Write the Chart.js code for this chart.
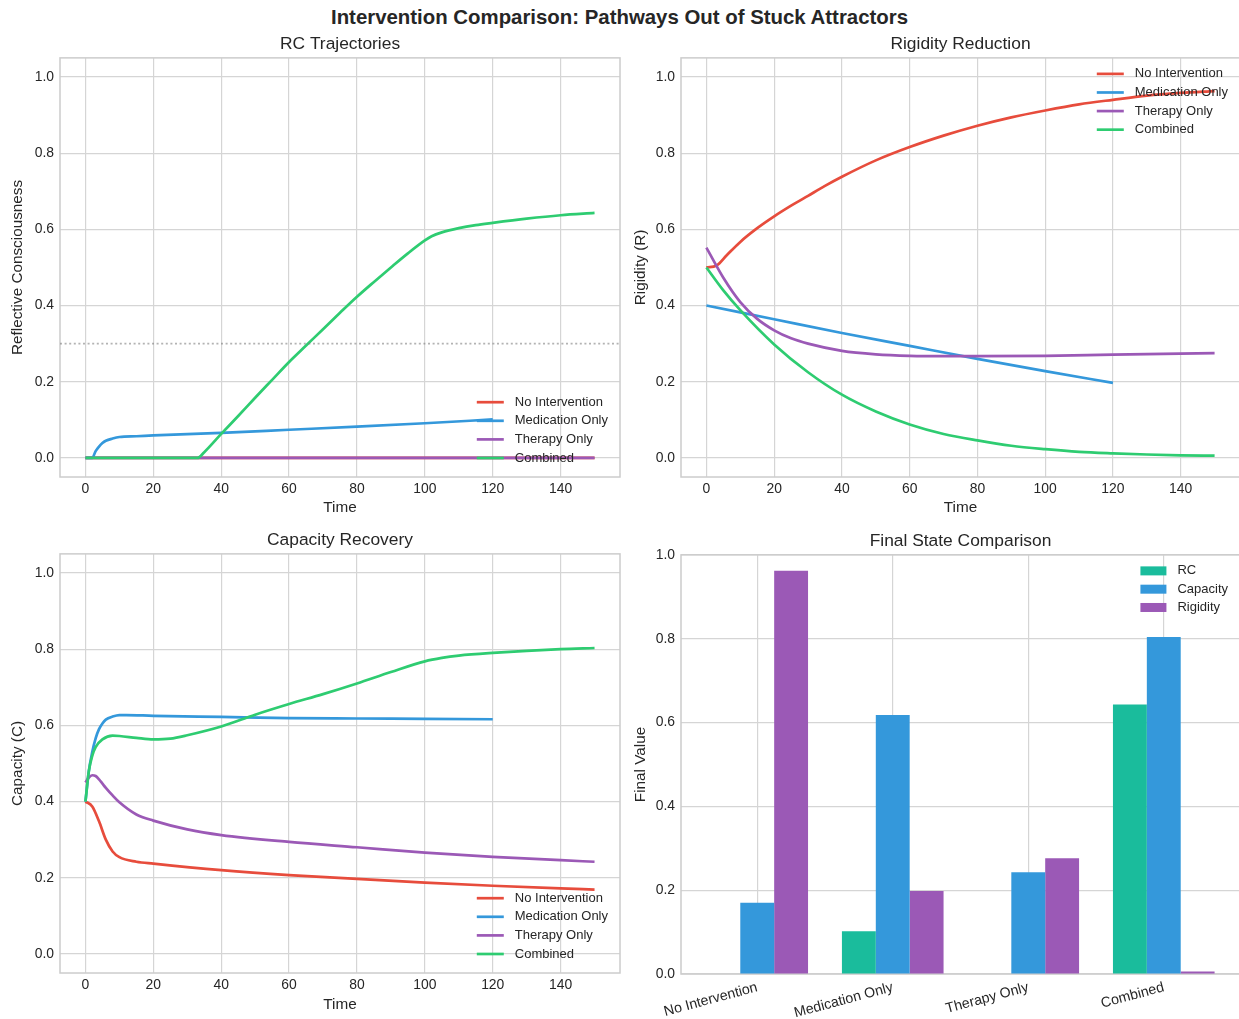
<!DOCTYPE html>
<html>
<head>
<meta charset="utf-8">
<title>Intervention Comparison</title>
<script src="https://cdn.jsdelivr.net/npm/chart.js@4.4.1/dist/chart.umd.min.js"></script>
<style>
  body { margin: 0; width: 1239px; height: 1019px; background: #fff; position: relative; overflow: hidden;
         font-family: "Liberation Sans", Arial, sans-serif; color: #262626; }
  #suptitle { position: absolute; top: 5px; left: 0; width: 1239px; text-align: center;
              font-weight: bold; font-size: 20.4px; line-height: 24px; }
  .panel { position: absolute; }
</style>
</head>
<body>
<div id="suptitle">Intervention Comparison: Pathways Out of Stuck Attractors</div>
<div class="panel" style="left:0;top:31px;width:630px;height:490px"><canvas id="rcChart"></canvas></div>
<div class="panel" style="left:625px;top:31px;width:615px;height:490px"><canvas id="rigChart"></canvas></div>
<div class="panel" style="left:0;top:527px;width:630px;height:490px"><canvas id="capChart"></canvas></div>
<div class="panel" style="left:625px;top:528px;width:615px;height:491px"><canvas id="barChart"></canvas></div>

<script>
// ---- data ----
const seriesNames = ["No Intervention", "Medication Only", "Therapy Only", "Combined"];
const seriesColors = ["#e74c3c", "#3498db", "#9b59b6", "#2ecc71"];

// RC trajectories
const rcNoT = [0, 150];
const rcNoY = [0, 0];
const rcMedT = [0, 2, 3, 4, 5, 6, 8, 10, 15, 20, 40, 60, 80, 100, 120];
const rcMedY = [0, 0, 0.018, 0.03, 0.039, 0.045, 0.051, 0.055, 0.057, 0.059, 0.066, 0.074, 0.082, 0.091, 0.101];
const rcTherT = [0, 150];
const rcTherY = [0, 0];
const rcCombT = [0, 33, 35, 40, 45, 50, 55, 60, 65, 70, 75, 80, 85, 90, 95, 100, 102, 105, 110, 115, 120, 130, 140, 150];
const rcCombY = [0, 0, 0.015, 0.063, 0.11, 0.158, 0.205, 0.252, 0.295, 0.338, 0.381, 0.423, 0.462, 0.5, 0.537, 0.571, 0.582, 0.592, 0.603, 0.611, 0.617, 0.628, 0.637, 0.643];
const rcThreshold = 0.3;

// Rigidity
const rigNoT = [0, 3, 6, 10, 15, 20, 25, 30, 35, 40, 50, 60, 70, 80, 90, 100, 110, 120, 130, 140, 150];
const rigNoY = [0.5, 0.505, 0.532, 0.567, 0.603, 0.634, 0.662, 0.688, 0.714, 0.738, 0.781, 0.816, 0.846, 0.872, 0.894, 0.912, 0.928, 0.94, 0.951, 0.958, 0.963];
const rigMedT = [0, 20, 40, 60, 80, 100, 120];
const rigMedY = [0.4, 0.364, 0.328, 0.294, 0.26, 0.228, 0.197];
const rigTherT = [0, 5, 10, 15, 20, 25, 30, 40, 50, 60, 70, 80, 100, 120, 150];
const rigTherY = [0.552, 0.473, 0.409, 0.365, 0.335, 0.314, 0.3, 0.281, 0.272, 0.268, 0.267, 0.267, 0.268, 0.271, 0.275];
const rigCombT = [0, 5, 10, 20, 30, 40, 50, 60, 70, 80, 90, 100, 110, 120, 130, 140, 150];
const rigCombY = [0.5, 0.44, 0.388, 0.298, 0.225, 0.166, 0.122, 0.088, 0.063, 0.046, 0.032, 0.023, 0.016, 0.012, 0.009, 0.007, 0.006];

// Capacity
const capNoT = [0, 2, 4, 6, 8, 10, 15, 20, 40, 60, 80, 100, 120, 140, 150];
const capNoY = [0.4, 0.387, 0.348, 0.3, 0.269, 0.254, 0.242, 0.237, 0.22, 0.207, 0.197, 0.187, 0.179, 0.172, 0.169];
const capMedT = [0, 1, 2, 3, 4, 5, 6, 8, 10, 12, 20, 40, 60, 80, 100, 120];
const capMedY = [0.4, 0.48, 0.53, 0.566, 0.59, 0.605, 0.615, 0.623, 0.627, 0.627, 0.625, 0.622, 0.619, 0.618, 0.617, 0.616];
const capTherT = [0, 1, 2, 3, 4, 5, 6, 8, 10, 15, 20, 30, 40, 60, 80, 100, 120, 140, 150];
const capTherY = [0.45, 0.463, 0.469, 0.467, 0.458, 0.447, 0.436, 0.416, 0.398, 0.366, 0.35, 0.327, 0.312, 0.294, 0.28, 0.266, 0.255, 0.246, 0.242];
const capCombT = [0, 1, 2, 3, 5, 8, 10, 15, 20, 25, 30, 40, 50, 60, 70, 80, 90, 100, 105, 110, 120, 140, 150];
const capCombY = [0.4, 0.48, 0.52, 0.543, 0.563, 0.573, 0.572, 0.567, 0.563, 0.565, 0.574, 0.597, 0.628, 0.656, 0.682, 0.71, 0.74, 0.768, 0.777, 0.783, 0.79, 0.8, 0.803];

// Final state
const barCategories = ["No Intervention", "Medication Only", "Therapy Only", "Combined"];
const finalRC = [0, 0.102, 0, 0.643];
const finalCapacity = [0.17, 0.618, 0.243, 0.804];
const finalRigidity = [0.962, 0.198, 0.276, 0.006];
const barNames = ["RC", "Capacity", "Rigidity"];
const barColors = ["#1abc9c", "#3498db", "#9b59b6"];

const timeTicks = [0, 20, 40, 60, 80, 100, 120, 140];
const valueTicks = [0, 0.2, 0.4, 0.6, 0.8, 1.0];

// ---- styling ----
const FONT = '"Liberation Sans", Arial, sans-serif';
const TEXT = "#262626";
const GRID = "#d5d5d5";
Chart.defaults.font.family = FONT;
Chart.defaults.color = TEXT;
Chart.defaults.animation = false;

function zip(ts, ys) {
  return ts.map((t, i) => ({ x: t, y: ys[i] }));
}

// axes frame like matplotlib spines
const framePlugin = {
  id: "frame",
  beforeDatasetsDraw(chart) {
    const { ctx, chartArea: a } = chart;
    ctx.save();
    ctx.strokeStyle = "#cccccc";
    ctx.lineWidth = 1.5;
    ctx.strokeRect(a.left, a.top, a.right - a.left, a.bottom - a.top);
    ctx.restore();
  }
};

// legend drawn inside the axes
const insideLegend = {
  id: "insideLegend",
  afterDatasetsDraw(chart, args, opts) {
    if (!opts.corner) return;
    const { ctx, chartArea } = chart;
    const items = chart.data.datasets.filter((d) => !d.noLegend);
    ctx.save();
    ctx.font = "13px " + FONT;
    const textW = Math.max(...items.map((d) => ctx.measureText(d.label).width));
    const handleW = opts.patch ? 26 : 27;
    const gap = 11;
    const rowH = opts.rowH || 18.6;
    const left = chartArea.right - 12 - textW - gap - handleW;
    let y = opts.corner === "upper"
      ? chartArea.top + 16
      : chartArea.bottom - 19 - rowH * (items.length - 1);
    items.forEach((d) => {
      if (opts.patch) {
        ctx.fillStyle = d.backgroundColor;
        ctx.fillRect(left, y - 4.5, handleW, 9);
      } else {
        ctx.strokeStyle = d.borderColor;
        ctx.lineWidth = d.borderWidth;
        ctx.beginPath();
        ctx.moveTo(left, y);
        ctx.lineTo(left + handleW, y);
        ctx.stroke();
      }
      ctx.fillStyle = TEXT;
      ctx.textBaseline = "middle";
      ctx.textAlign = "left";
      ctx.fillText(d.label, left + handleW + gap, y);
      y += rowH;
    });
    ctx.restore();
  }
};

function titleOpts(text) {
  return { display: true, text: text, fullSize: false, color: TEXT,
           font: { size: 17.4, weight: "normal" }, padding: { top: 3, bottom: 3 } };
}

function lineDatasets(pairs) {
  return pairs.map((p, i) => ({
    label: seriesNames[i],
    data: zip(p[0], p[1]),
    borderColor: seriesColors[i],
    backgroundColor: seriesColors[i],
    borderWidth: 2.7,
    pointRadius: 0,
    cubicInterpolationMode: "monotone",
    order: -i
  }));
}

function lineOptions(title, yTitle, yPad, yWidth, corner) {
  return {
    responsive: true,
    maintainAspectRatio: false,
    layout: { padding: { left: 0, right: yWidth === 60 ? 10 : 0, top: 0, bottom: 0 } },
    plugins: {
      legend: { display: false },
      tooltip: { enabled: false },
      title: titleOpts(title),
      insideLegend: { corner: corner }
    },
    scales: {
      x: {
        type: "linear",
        min: -7.5,
        max: 157.5,
        afterBuildTicks(scale) { scale.ticks = timeTicks.map((v) => ({ value: v })); },
        afterFit(scale) { scale.height = 44; },
        ticks: { font: { size: 13.9 }, padding: 4, color: TEXT },
        grid: { color: GRID, lineWidth: 1.2, drawTicks: false },
        border: { display: false },
        title: { display: true, text: "Time", font: { size: 15.3 }, color: TEXT, padding: { top: 0, bottom: 3.8 } }
      },
      y: {
        min: -0.05,
        max: 1.05,
        afterBuildTicks(scale) { scale.ticks = valueTicks.map((v) => ({ value: v })); },
        afterFit(scale) { scale.width = yWidth; },
        ticks: { font: { size: 13.9 }, padding: 6, color: TEXT, callback: (v) => v.toFixed(1) },
        grid: { color: GRID, lineWidth: 1.2, drawTicks: false },
        border: { display: false },
        title: { display: true, text: yTitle, font: { size: 15.3 }, color: TEXT, padding: { top: yPad, bottom: 0 } }
      }
    }
  };
}

// RC trajectories
const rcSets = lineDatasets([[rcNoT, rcNoY], [rcMedT, rcMedY], [rcTherT, rcTherY], [rcCombT, rcCombY]]);
rcSets.push({
  label: "threshold",
  noLegend: true,
  data: [{ x: -7.5, y: rcThreshold }, { x: 157.5, y: rcThreshold }],
  borderColor: "rgba(128,128,128,0.6)",
  borderWidth: 1.8,
  borderDash: [2, 2.6],
  pointRadius: 0,
  order: -10
});
new Chart(document.getElementById("rcChart"), {
  type: "line",
  data: { datasets: rcSets },
  options: lineOptions("RC Trajectories", "Reflective Consciousness", 8.8, 60, "lower"),
  plugins: [framePlugin, insideLegend]
});

// Rigidity
new Chart(document.getElementById("rigChart"), {
  type: "line",
  data: { datasets: lineDatasets([[rigNoT, rigNoY], [rigMedT, rigMedY], [rigTherT, rigTherY], [rigCombT, rigCombY]]) },
  options: lineOptions("Rigidity Reduction", "Rigidity (R)", 6.8, 56, "upper"),
  plugins: [framePlugin, insideLegend]
});

// Capacity
const capOpts = lineOptions("Capacity Recovery", "Capacity (C)", 8.8, 60, "lower");
capOpts.scales.x.title.padding = { top: 0, bottom: 2.8 };
new Chart(document.getElementById("capChart"), {
  type: "line",
  data: { datasets: lineDatasets([[capNoT, capNoY], [capMedT, capMedY], [capTherT, capTherY], [capCombT, capCombY]]) },
  options: capOpts,
  plugins: [framePlugin, insideLegend]
});

// Final state comparison
const barValues = [finalRC, finalCapacity, finalRigidity];
new Chart(document.getElementById("barChart"), {
  type: "bar",
  data: {
    datasets: barValues.map((vals, i) => ({
      label: barNames[i],
      data: vals.map((v, j) => ({ x: j, y: v })),
      backgroundColor: barColors[i],
      borderWidth: 0,
      categoryPercentage: 0.75,
      barPercentage: 1.0
    }))
  },
  options: {
    responsive: true,
    maintainAspectRatio: false,
    layout: { padding: { left: 0, right: 0, top: 0, bottom: 0 } },
    plugins: {
      legend: { display: false },
      tooltip: { enabled: false },
      title: titleOpts("Final State Comparison"),
      insideLegend: { corner: "upper", patch: true, rowH: 18.3 }
    },
    scales: {
      x: {
        type: "linear",
        offset: false,
        min: -0.5625,
        max: 3.5625,
        afterBuildTicks(scale) { scale.ticks = barCategories.map((c, i) => ({ value: i })); },
        afterFit(scale) { scale.height = 45; },
        ticks: { font: { size: 14.2 }, padding: 5, color: TEXT, minRotation: 15, maxRotation: 15, autoSkip: false,
                 callback: (v) => barCategories[v] },
        grid: { offset: false, color: GRID, lineWidth: 1.2, drawTicks: false },
        border: { display: false }
      },
      y: {
        min: 0,
        max: 1.0,
        afterBuildTicks(scale) { scale.ticks = valueTicks.map((v) => ({ value: v })); },
        afterFit(scale) { scale.width = 56; },
        ticks: { font: { size: 13.9 }, padding: 6, color: TEXT, callback: (v) => v.toFixed(1) },
        grid: { color: GRID, lineWidth: 1.2, drawTicks: false },
        border: { display: false },
        title: { display: true, text: "Final Value", font: { size: 15.3 }, color: TEXT, padding: { top: 6.8, bottom: 0 } }
      }
    }
  },
  plugins: [framePlugin, insideLegend]
});
</script>
</body>
</html>
